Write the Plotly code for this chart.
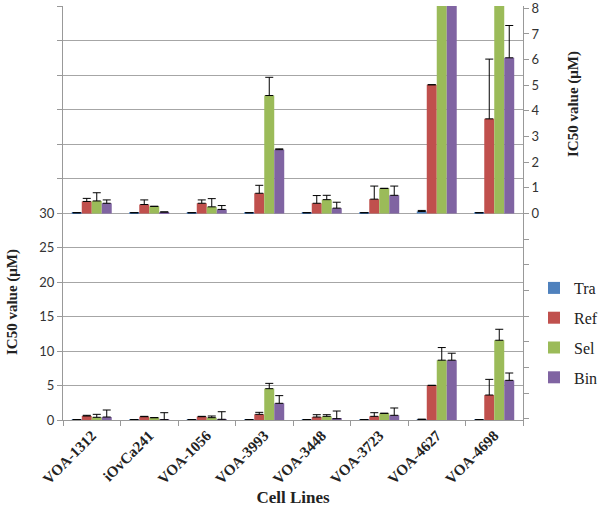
import plotly.graph_objects as go

cell_lines = ["VOA-1312", "iOvCa241", "VOA-1056", "VOA-3993", "VOA-3448", "VOA-3723", "VOA-4627", "VOA-4698"]
series = ["Tra", "Ref", "Sel", "Bin"]
colors = ["#4F81BD", "#C0504D", "#9BBB59", "#8064A2"]

# Lower panel (left axis, 0-30)
low_tra = [0.05, 0.05, 0.05, 0.05, 0.05, 0.05, 0.08, 0.05]
low_ref = [0.58, 0.48, 0.48, 0.82, 0.43, 0.53, 5.02, 3.62]
low_sel = [0.39, 0.34, 0.34, 4.54, 0.53, 0.97, 8.67, 11.56]
low_bin = [0.43, 0.05, 0.10, 2.42, 0.19, 0.68, 8.67, 5.75]
low_tra_err = [0.0, 0.0, 0.0, 0.0, 0.0, 0.0, 0.04, 0.0]
low_ref_err = [0.10, 0.05, 0.05, 0.29, 0.34, 0.53, 0.0, 2.27]
low_sel_err = [0.43, 0.0, 0.24, 0.77, 0.24, 0.0, 1.83, 1.59]
low_bin_err = [1.02, 1.01, 1.10, 1.11, 1.11, 1.06, 1.01, 1.06]

# Upper panel (right axis, 0-8)
up_tra = [0.03, 0.03, 0.03, 0.03, 0.03, 0.03, 0.08, 0.03]
up_ref = [0.47, 0.35, 0.40, 0.79, 0.40, 0.56, 5.02, 3.69]
up_sel = [0.49, 0.28, 0.26, 4.60, 0.54, 0.98, 8.67, 11.56]
up_bin = [0.40, 0.06, 0.16, 2.49, 0.21, 0.71, 8.67, 6.07]
up_tra_err = [0.0, 0.0, 0.0, 0.0, 0.0, 0.0, 0.04, 0.0]
up_ref_err = [0.12, 0.18, 0.13, 0.31, 0.30, 0.51, 0.0, 2.33]
up_sel_err = [0.32, 0.0, 0.32, 0.71, 0.17, 0.0, 1.83, 1.59]
up_bin_err = [0.13, 0.0, 0.15, 0.03, 0.23, 0.36, 1.01, 1.26]

low_vals = [low_tra, low_ref, low_sel, low_bin]
low_errs = [low_tra_err, low_ref_err, low_sel_err, low_bin_err]
up_vals = [up_tra, up_ref, up_sel, up_bin]
up_errs = [up_tra_err, up_ref_err, up_sel_err, up_bin_err]

left_ticks = list(range(0, 61, 5))
left_labels = [str(v) if v <= 30 else "" for v in left_ticks]
right_ticks = list(range(-8, 9))
right_labels = [str(v) if v >= 0 else "" for v in right_ticks]

fig = go.Figure()
for name, col, vals, errs in zip(series, colors, low_vals, low_errs):
    fig.add_trace(go.Bar(
        x=cell_lines, y=vals, name=name, marker=dict(color=col, line=dict(width=0)),
        legendgroup=name, yaxis="y",
        error_y=dict(type="data", array=errs, arrayminus=[0] * len(errs), symmetric=False,
                     color="black", thickness=1, width=4),
    ))
for name, col, vals, errs in zip(series, colors, up_vals, up_errs):
    fig.add_trace(go.Bar(
        x=cell_lines, y=vals, name=name, marker=dict(color=col, line=dict(width=0)),
        legendgroup=name, showlegend=False, yaxis="y2",
        error_y=dict(type="data", array=errs, arrayminus=[0] * len(errs), symmetric=False,
                     color="black", thickness=1, width=4),
    ))

L, R, T, B = 63, 77, 6, 95
W, H = 600, 515
pw, ph = W - L - R, H - T - B

def px_x(p):
    return (p - L) / pw

def px_y(p):
    return (H - B - p) / ph

serif = "Liberation Serif"
sans = "Lato"

fig.update_layout(
    width=W, height=H,
    margin=dict(l=L, r=R, t=T, b=B, autoexpand=False),
    paper_bgcolor="white", plot_bgcolor="white",
    barmode="group", bargap=0.305, bargroupgap=0.0,
    showlegend=True,
    legend=dict(x=px_x(534), y=px_y(271), xanchor="left", yanchor="top",
                font=dict(family=serif, size=16, color="#222"),
                tracegroupgap=6, itemwidth=30, bgcolor="rgba(0,0,0,0)"),
    xaxis=dict(
        type="category", tickson="boundaries", ticks="outside", ticklen=5,
        tickcolor="#999", showline=True, linecolor="#999", linewidth=1,
        tickangle=-45, tickfont=dict(family=serif, size=15, color="#222", weight="bold"),
        title=dict(text="<b>Cell Lines</b>", font=dict(family=serif, size=17, color="#222"), standoff=5),
        showgrid=False, zeroline=False, automargin=False,
    ),
    yaxis=dict(
        range=[0, 60.001], tickvals=left_ticks, ticktext=left_labels,
        ticks="outside", ticklen=5, tickcolor="#999",
        showline=True, linecolor="#999", linewidth=1,
        showgrid=True, gridcolor="#A6A6A6", gridwidth=1, zeroline=False,
        tickfont=dict(family=sans, size=13, color="#333"), automargin=False,
    ),
    yaxis2=dict(
        range=[-8.05, 8.09], tickvals=right_ticks, ticktext=right_labels,
        overlaying="y", side="right", ticklabeloverflow="allow",
        ticks="outside", ticklen=5, tickcolor="#999",
        showline=True, linecolor="#999", linewidth=1,
        showgrid=False, zeroline=False,
        tickfont=dict(family=sans, size=13, color="#333"), automargin=False,
    ),
    annotations=[
        dict(text="<b>IC50 value (μM)</b>", x=px_x(12), y=px_y(302), xref="paper", yref="paper",
             xanchor="center", yanchor="middle",
             textangle=-90, showarrow=False, font=dict(family=serif, size=15, color="#222")),
        dict(text="<b>IC50 value (μM)</b>", x=px_x(573), y=px_y(104), xref="paper", yref="paper",
             xanchor="center", yanchor="middle",
             textangle=-90, showarrow=False, font=dict(family=serif, size=15, color="#222")),
    ],
)

fig.write_html("out.html", config={"displayModeBar": False},
               post_script="document.body.style.margin='0px';")
